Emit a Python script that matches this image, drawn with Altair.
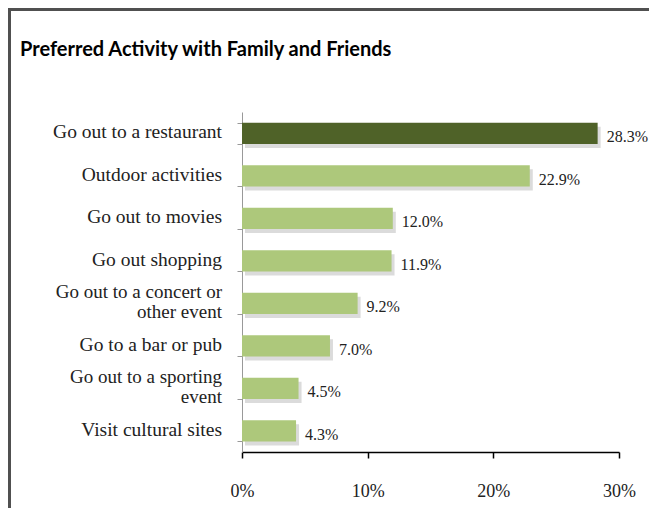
import altair as alt
import pandas as pd

categories = [
    "Go out to a restaurant",
    "Outdoor activities",
    "Go out to movies",
    "Go out shopping",
    "Go out to a concert or\nother event",
    "Go to a bar or pub",
    "Go out to a sporting\nevent",
    "Visit cultural sites",
]
values = [28.3, 22.9, 12.0, 11.9, 9.2, 7.0, 4.5, 4.3]
highlight = [True, False, False, False, False, False, False, False]
title_text = ["Preferred Activity with Family and Friends"]

df = pd.DataFrame({"cat": categories, "val": values, "hi": highlight})
df["lbl"] = df["val"].map(lambda v: f"{v:.1f}%")
df["two"] = df["cat"].str.contains("\n")

W, H = 377, 340
PL, PT, PR, PB = 234, 104, 30, 56
SERIF = "Liberation Serif, Times New Roman, serif"

x_scale = alt.Scale(domain=[0, 30])
y_scale = alt.Scale(paddingInner=0.5, paddingOuter=0.25)

x_enc = alt.X("val:Q", scale=x_scale,
              axis=alt.Axis(values=[0, 10, 20, 30], labelExpr="datum.value + '%'",
                            title=None, grid=False, domainColor="#000", tickColor="#000",
                            tickSize=6, tickWidth=1.5, domainWidth=1.5, labelPadding=24,
                            labelFlush=False,
                            labelFont=SERIF, labelFontSize=18, labelColor="#222"))
y_enc = alt.Y("cat:N", sort=categories, scale=y_scale,
              axis=alt.Axis(title=None, tickBand="extent", domainColor="#999", tickColor="#999",
                            tickSize=5, labels=False))
y_plain = alt.Y("cat:N", sort=categories)

base = alt.Chart(df)

shadow = base.mark_bar(color="#888", opacity=0.3, xOffset=3, yOffset=4).encode(
    x=alt.X("val:Q", scale=x_scale), y=y_plain)

bars = base.mark_bar().encode(
    x=x_enc, y=y_enc,
    color=alt.Color("hi:N", scale=alt.Scale(domain=[True, False], range=["#4F6228", "#ADC87B"]),
                    legend=None),
)

labels = base.mark_text(align="left", baseline="middle", dx=9, dy=4,
                        font=SERIF, fontSize=16, color="#222").encode(
    x="val:Q", y=y_plain, text="lbl:N")

cat_one = base.transform_filter("!datum.two").mark_text(
    align="right", baseline="middle", font=SERIF, fontSize=19.5, color="#222", dy=-1).encode(
    x=alt.value(-20), y=y_plain, text="cat:N")
cat_two = base.transform_filter("datum.two").mark_text(
    align="right", baseline="middle", font=SERIF, fontSize=19, color="#222", lineBreak="\n",
    lineHeight=20, dy=-11).encode(
    x=alt.value(-20), y=y_plain, text="cat:N")

border_df = pd.DataFrame({"a": [0]})
border = alt.Chart(border_df).mark_rect(fill=None, stroke="#505050", strokeWidth=3).encode(
    x=alt.value(-PL + 1.5), y=alt.value(-PT + 1.5), x2=alt.value(W + PR + 20), y2=alt.value(H + PB + 20))

title_df = pd.DataFrame({"t": title_text})
title = alt.Chart(title_df).mark_text(align="left", baseline="alphabetic", font="Lato",
                                      fontWeight="bold", fontSize=20, color="#000").encode(
    x=alt.value(-222), y=alt.value(-56), text="t:N")

chart = alt.layer(border, shadow, bars, labels, cat_one, cat_two, title).properties(
    width=W, height=H,
    background="white",
    autosize=alt.AutoSizeParams(type="none"),
    padding={"left": PL, "top": PT, "right": PR, "bottom": PB},
).configure_view(strokeWidth=0)

chart.save("out.html", embed_options={"renderer": "svg", "actions": False})
